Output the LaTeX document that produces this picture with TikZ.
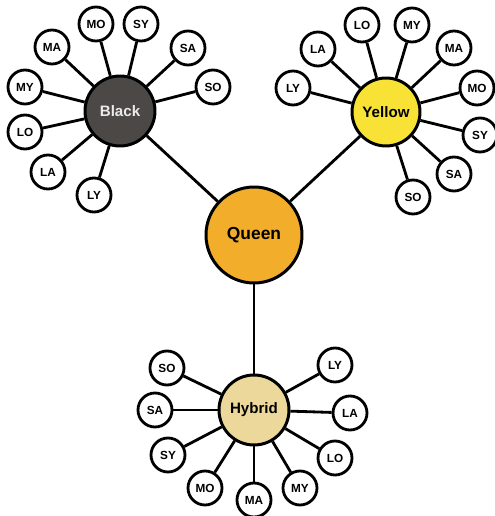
\documentclass[tikz,border=0pt]{standalone}
\usepackage{fontspec}
\setmainfont{Liberation Sans}
\usepackage{tikz}

\definecolor{queenorange}{HTML}{F2AD2A}
\definecolor{blackgray}{HTML}{4B4845}
\definecolor{yellowfill}{HTML}{F7E235}
\definecolor{hybridtan}{HTML}{ECD89A}

\begin{document}
\begin{tikzpicture}[x=0.02cm,y=-0.02cm,
	leaf/.style={circle, draw, line width=1.6pt, fill=white, minimum size=0.68cm, inner sep=0pt, font=\fontsize{6.7}{7}\selectfont\bfseries},
	hub/.style={circle, draw, line width=1.7pt, minimum size=1.4cm, inner sep=0pt, font=\fontsize{8.6}{9}\selectfont\bfseries},
	link/.style={line width=1.6pt}]

	\useasboundingbox (0,0) rectangle (494,516);

	\node (Q) [hub, fill=queenorange, minimum size=1.92cm, font=\fontsize{9.9}{10}\selectfont\bfseries] at (254,235) {Queen};
	\node (B) [hub, fill=blackgray, text=white!92!black] at (120,111) {Black};
	\node (Y) [hub, fill=yellowfill, minimum size=1.36cm] at (386,112) {Yellow};
	\node (H) [hub, fill=hybridtan] at (254,410) {Hybrid};

	\draw [link] (Q) to (B);
	\draw [link] (Q) to (Y);
	\draw [link] (Q) to (H);

	% black
	\node (b1) [leaf] at (96,24) {MO};
	\node (b2) [leaf] at (141,24) {SY};
	\node (b3) [leaf] at (52,47) {MA};
	\node (b4) [leaf] at (188,48) {SA};
	\node (b5) [leaf] at (213,87) {SO};
	\node (b6) [leaf] at (25,87) {MY};
	\node (b7) [leaf] at (25,132) {LO};
	\node (b8) [leaf] at (48,172) {LA};
	\node (b9) [leaf] at (94,195) {LY};

	% yellow
	\node (y1) [leaf] at (362,25) {LO};
	\node (y2) [leaf] at (412,25) {MY};
	\node (y3) [leaf] at (318,49) {LA};
	\node (y4) [leaf] at (454,48) {MA};
	\node (y5) [leaf] at (293,88) {LY};
	\node (y6) [leaf] at (477,88) {MO};
	\node (y7) [leaf] at (480,135) {SY};
	\node (y8) [leaf] at (454,174) {SA};
	\node (y9) [leaf] at (413,197) {SO};

	% hybrid
	\node (h1) [leaf] at (167,368) {SO};
	\node (h2) [leaf] at (155,410) {SA};
	\node (h3) [leaf] at (168,455) {SY};
	\node (h4) [leaf] at (205,488) {MO};
	\node (h5) [leaf] at (254,500) {MA};
	\node (h6) [leaf] at (300,488) {MY};
	\node (h7) [leaf] at (335,458) {LO};
	\node (h8) [leaf] at (350,413) {LA};
	\node (h9) [leaf] at (335,365) {LY};

	\draw [link] (B) to (b1);
	\draw [link] (B) to (b2);
	\draw [link] (B) to (b3);
	\draw [link] (B) to (b4);
	\draw [link] (B) to (b5);
	\draw [link] (B) to (b6);
	\draw [link] (B) to (b7);
	\draw [link] (B) to (b8);
	\draw [link] (B) to (b9);

	\draw [link] (Y) to (y1);
	\draw [link] (Y) to (y2);
	\draw [link] (Y) to (y3);
	\draw [link] (Y) to (y4);
	\draw [link] (Y) to (y5);
	\draw [link] (Y) to (y6);
	\draw [link] (Y) to (y7);
	\draw [link] (Y) to (y8);
	\draw [link] (Y) to (y9);

	\draw [link] (H) to (h1);
	\draw [link] (H) to (h2);
	\draw [link] (H) to (h3);
	\draw [link] (H) to (h4);
	\draw [link] (H) to (h5);
	\draw [link] (H) to (h6);
	\draw [link] (H) to (h7);
	\draw [link] (H) to (h8);
	\draw [link] (H) to (h9);

\end{tikzpicture}
\end{document}
